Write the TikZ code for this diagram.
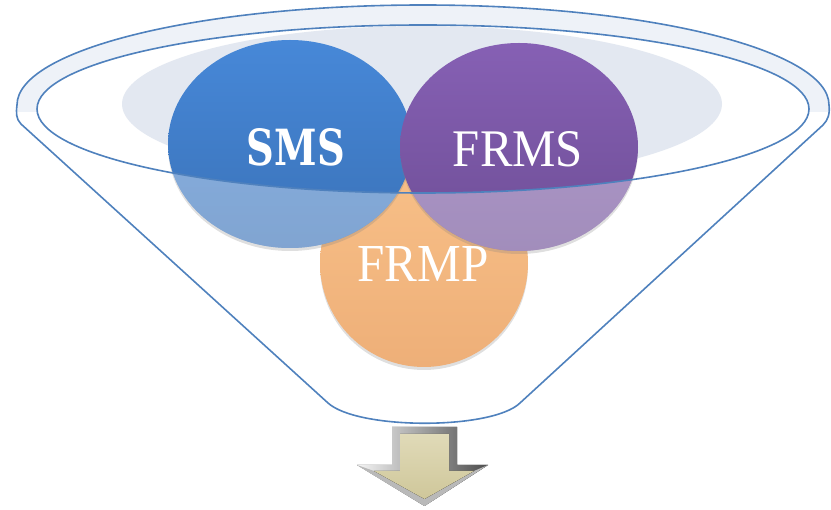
\documentclass[tikz,border=0pt]{standalone}
\usepackage{fontspec}
\setmainfont{Liberation Serif}
\newfontfamily\heavyserif{DejaVu Serif}
\usetikzlibrary{shadows}
\definecolor{funnelline}{HTML}{4F81BD}
\definecolor{rimfill}{HTML}{EEF2F8}
\definecolor{innerfill}{HTML}{E3E8F1}
\definecolor{smstop}{HTML}{4788D8}
\definecolor{smsbot}{HTML}{3A72B8}
\definecolor{frmstop}{HTML}{8660B4}
\definecolor{frmsbot}{HTML}{6E4E96}
\definecolor{frmptop}{HTML}{F8C088}
\definecolor{frmpbot}{HTML}{EEAF78}
\definecolor{beigetop}{HTML}{E0DAB8}
\definecolor{beigebot}{HTML}{CFC79A}
\tikzset{
  rimline/.style={draw=funnelline, line width=1.6pt},
  bubbletext/.style={text=white, inner sep=0pt},
  bubshadow/.style={drop shadow={opacity=0.25, shadow xshift=0pt, shadow yshift=-3pt}},
  frontface/.style={white, opacity=0.36, even odd rule}
}
\newcommand{\innerell}{(423,109) ellipse [x radius=386pt, y radius=84pt]}
\newcommand{\smsell}{(290,144) ellipse [x radius=122pt, y radius=104pt]}
\newcommand{\frmsell}{(519,147) ellipse [x radius=119pt, y radius=104pt]}
\begin{document}
\begin{tikzpicture}[x=1pt,y=-1pt]
\useasboundingbox (0,0) rectangle (831,510);
% rim fill
\begin{scope}
  \clip (0,0) rectangle (831,112);
  \fill[rimfill] (423,105) ellipse [x radius=406pt, y radius=100pt];
\end{scope}
\fill[white] \innerell;
\fill[innerfill] (422,104) ellipse [x radius=300pt, y radius=78pt];
% FRMP bubble
\path[bubshadow, top color=frmptop, bottom color=frmpbot] (424,263) ellipse [x radius=104pt, y radius=104pt];
% SMS bubble
\path[bubshadow, top color=smstop, bottom color=smsbot] \smsell;
\begin{scope}
  \clip \smsell;
  \fill[frontface] (0,0) rectangle (831,510) \innerell;
\end{scope}
% FRMS bubble
\path[bubshadow, top color=frmstop, bottom color=frmsbot] \frmsell;
\begin{scope}
  \clip \frmsell;
  \fill[frontface] (0,0) rectangle (831,510) \innerell;
\end{scope}
% funnel outlines
\draw[rimline] \innerell;
\draw[rimline] (17,105) arc [start angle=180, end angle=0, x radius=406pt, y radius=100pt]
  .. controls (830,114) and (828,120) .. (823,125)
  -- (520,403) .. controls (492,430) and (358,430) .. (328,403)
  -- (21,124) .. controls (16,119) and (16,113) .. (17,105) -- cycle;
% labels
\node[bubbletext] (sms) at (296,147) {\resizebox{98pt}{37pt}{\heavyserif\bfseries SMS}};
\node[bubbletext] (frms) at (518,149) {\resizebox{130pt}{35pt}{FRMS}};
\node[bubbletext] (frmp) at (423,264) {\resizebox{131pt}{35pt}{FRMP}};
% arrow
\fill[left color=gray!8, right color=black!70] (392,427) -- (457,427) -- (457,465) -- (488,465) -- (424.5,506) -- (357,465) -- (392,465) -- cycle;
\fill[gray!55] (357,465) -- (424.5,506) -- (488,465) -- (474,471) -- (424.5,499) -- (374,471) -- cycle;
\fill[top color=beigetop, bottom color=beigebot] (400,434) -- (449,434) -- (449,471) -- (474,471) -- (424.5,499) -- (374,471) -- (400,471) -- cycle;
\end{tikzpicture}
\end{document}
